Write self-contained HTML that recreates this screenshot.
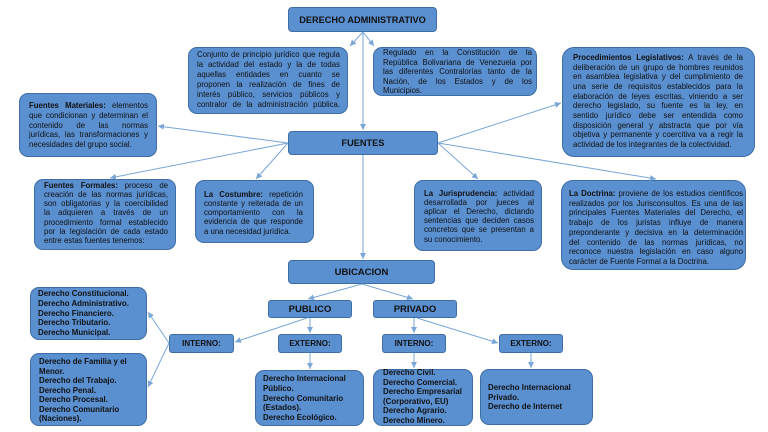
<!DOCTYPE html>
<html><head><meta charset="utf-8">
<style>
html,body{margin:0;padding:0;background:#fff;}
body{width:768px;height:432px;position:relative;overflow:hidden;font-family:"Liberation Sans",Arial,sans-serif;color:#111;}
.b{position:absolute;box-sizing:border-box;background:#5a8fd0;border:1px solid #3e6ea5;border-radius:9px;}
.t{position:absolute;box-sizing:border-box;background:#5a8fd0;border:1px solid #3e6ea5;border-radius:4px;display:flex;align-items:center;justify-content:center;font-weight:bold;color:#111;white-space:nowrap;}
.tx{position:absolute;font-size:7.8px;}
.tx div{text-align:justify;text-align-last:justify;overflow:visible;}
.tx div.l{text-align:left;text-align-last:left;}
.ls{position:absolute;font-size:7.9px;font-weight:bold;}
.ls div{white-space:nowrap;}
svg{position:absolute;left:0;top:0;}
</style></head><body>

<!-- boxes -->
<div class="t" style="left:288px;top:7px;width:149px;height:25px;font-size:9.2px;">DERECHO ADMINISTRATIVO</div>
<div class="b" style="left:188px;top:47px;width:160px;height:67px;"></div>
<div class="b" style="left:373px;top:47px;width:164px;height:49px;"></div>
<div class="b" style="left:19px;top:93px;width:138px;height:64px;"></div>
<div class="b" style="left:562px;top:47px;width:193px;height:110px;border-radius:12px;"></div>
<div class="t" style="left:288px;top:131px;width:150px;height:24px;font-size:9.2px;">FUENTES</div>
<div class="b" style="left:34px;top:179px;width:142px;height:71px;"></div>
<div class="b" style="left:195px;top:180px;width:119px;height:63px;"></div>
<div class="b" style="left:414px;top:180px;width:128px;height:71px;"></div>
<div class="b" style="left:561px;top:180px;width:185px;height:90px;border-radius:12px;"></div>
<div class="t" style="left:288px;top:260px;width:147px;height:24px;font-size:9.5px;">UBICACION</div>
<div class="t" style="left:268px;top:300px;width:84px;height:18px;font-size:9.5px;border-radius:3px;">PUBLICO</div>
<div class="t" style="left:373px;top:300px;width:84px;height:18px;font-size:9.5px;border-radius:3px;">PRIVADO</div>
<div class="t" style="left:169px;top:334px;width:65px;height:19px;font-size:8px;border-radius:3px;">INTERNO:</div>
<div class="t" style="left:278px;top:334px;width:64px;height:19px;font-size:8px;border-radius:3px;">EXTERNO:</div>
<div class="t" style="left:382px;top:334px;width:64px;height:19px;font-size:8px;border-radius:3px;">INTERNO:</div>
<div class="t" style="left:499px;top:334px;width:64px;height:19px;font-size:8px;border-radius:3px;">EXTERNO:</div>
<div class="b" style="left:30px;top:287px;width:117px;height:53px;"></div>
<div class="b" style="left:30px;top:353px;width:117px;height:73px;"></div>
<div class="b" style="left:255px;top:370px;width:109px;height:56px;"></div>
<div class="b" style="left:373px;top:369px;width:100px;height:57px;"></div>
<div class="b" style="left:480px;top:369px;width:113px;height:56px;"></div>

<!-- body texts -->
<div class="tx" style="left:197px;top:50px;width:143px;line-height:10px;">
<div>Conjunto de principio jurídico que regula</div>
<div>la actividad del estado y la de todas</div>
<div>aquellas entidades en cuanto se</div>
<div>proponen la realización de fines de</div>
<div>interés público, servicios públicos y</div>
<div>contralor de la administración pública.</div>
</div>

<div class="tx" style="left:383px;top:48px;width:149px;line-height:9.6px;">
<div>Regulado en la Constitución de la</div>
<div>República Bolivariana de Venezuela por</div>
<div>las diferentes Contralorías tanto de la</div>
<div>Nación, de los Estados y de los</div>
<div class="l">Municipios.</div>
</div>

<div class="tx" style="left:29px;top:101px;width:119px;line-height:9.75px;">
<div><b>Fuentes Materiales:</b> elementos</div>
<div>que condicionan y determinan el</div>
<div>contenido de las normas</div>
<div>jurídicas, las transformaciones y</div>
<div class="l">necesidades del grupo social.</div>
</div>

<div class="tx" style="left:573px;top:53px;width:170px;line-height:9.67px;">
<div><b>Procedimientos Legislativos:</b> A través de la</div>
<div>deliberación de un grupo de hombres reunidos</div>
<div>en asamblea legislativa y del cumplimiento de</div>
<div>una serie de requisitos establecidos para la</div>
<div>elaboración de leyes escritas, viniendo a ser</div>
<div>derecho legislado, su fuente es la ley, en</div>
<div>sentido jurídico debe ser entendida como</div>
<div>disposición general y abstracta que por vía</div>
<div>objetiva y permanente y coercitiva va a regir la</div>
<div class="l">actividad de los integrantes de la colectividad.</div>
</div>

<div class="tx" style="left:44px;top:180.5px;width:124px;line-height:9.33px;">
<div><b>Fuentes Formales:</b> proceso de</div>
<div>creación de las normas jurídicas,</div>
<div>son obligatorias y la coercibilidad</div>
<div>la adquieren a través de un</div>
<div>procedimiento formal establecido</div>
<div>por la legislación de cada estado</div>
<div class="l">entre estas fuentes tenemos:</div>
</div>

<div class="tx" style="left:204px;top:189.5px;width:99px;line-height:9.25px;">
<div><b>La Costumbre:</b> repetición</div>
<div>constante y reiterada de un</div>
<div>comportamiento con la</div>
<div>evidencia de que responde</div>
<div class="l">a una necesidad jurídica.</div>
</div>

<div class="tx" style="left:424px;top:188.5px;width:110px;line-height:9.2px;">
<div><b>La Jurisprudencia:</b> actividad</div>
<div>desarrollada por jueces al</div>
<div>aplicar el Derecho, dictando</div>
<div>sentencias que deciden casos</div>
<div>concretos que se presentan a</div>
<div class="l">su conocimiento.</div>
</div>

<div class="tx" style="left:569px;top:189px;width:174px;line-height:9.7px;">
<div><b>La Doctrina:</b> proviene de los estudios científicos</div>
<div>realizados por los Jurisconsultos. Es una de las</div>
<div>principales Fuentes Materiales del Derecho, el</div>
<div>trabajo de los juristas influye de manera</div>
<div>preponderante y decisiva en la determinación</div>
<div>del contenido de las normas jurídicas, no</div>
<div>reconoce nuestra legislación en caso alguno</div>
<div class="l">carácter de Fuente Formal a la Doctrina.</div>
</div>

<!-- lists -->
<div class="ls" style="left:38px;top:289px;line-height:9.75px;">
<div>Derecho Constitucional.</div>
<div>Derecho Administrativo.</div>
<div>Derecho Financiero.</div>
<div>Derecho Tributario.</div>
<div>Derecho Municipal.</div>
</div>
<div class="ls" style="left:39px;top:357px;line-height:9.5px;">
<div>Derecho de Familia y el</div>
<div>Menor.</div>
<div>Derecho del Trabajo.</div>
<div>Derecho Penal.</div>
<div>Derecho Procesal.</div>
<div>Derecho Comunitario</div>
<div>(Naciones).</div>
</div>
<div class="ls" style="left:263px;top:374px;line-height:9.75px;">
<div>Derecho Internacional</div>
<div>Público.</div>
<div>Derecho Comunitario</div>
<div>(Estados).</div>
<div>Derecho Ecológico.</div>
</div>
<div class="ls" style="left:383px;top:368px;line-height:9.6px;">
<div>Derecho Civil.</div>
<div>Derecho Comercial.</div>
<div>Derecho Empresarial</div>
<div>(Corporativo, EU)</div>
<div>Derecho Agrario.</div>
<div>Derecho Minero.</div>
</div>
<div class="ls" style="left:488px;top:383px;line-height:9.5px;">
<div>Derecho Internacional</div>
<div>Privado.</div>
<div>Derecho de Internet</div>
</div>

<!-- connectors -->
<svg width="768" height="432" viewBox="0 0 768 432">
<defs>
<marker id="a" viewBox="0 0 10 10" refX="10" refY="5" markerWidth="6" markerHeight="6" orient="auto" markerUnits="userSpaceOnUse">
<path d="M0,0 L10,5 L0,10 z" fill="#7aa6d8"/>
</marker>
</defs>
<g stroke="#7aa6d8" stroke-width="1" fill="none" marker-end="url(#a)">
<line x1="363" y1="32" x2="350" y2="46"/>
<line x1="363" y1="32" x2="374" y2="46"/>
<line x1="363" y1="32" x2="363" y2="130"/>
<line x1="288" y1="143" x2="158" y2="126"/>
<line x1="288" y1="143" x2="110" y2="178"/>
<line x1="288" y1="143" x2="256" y2="179"/>
<line x1="438" y1="143" x2="561" y2="103"/>
<line x1="438" y1="143" x2="478" y2="179"/>
<line x1="438" y1="143" x2="656" y2="179"/>
<line x1="363" y1="155" x2="363" y2="259"/>
<line x1="362" y1="284" x2="308" y2="299"/>
<line x1="362" y1="284" x2="413" y2="299"/>
<line x1="310" y1="318" x2="310" y2="333"/>
<line x1="307" y1="318" x2="235" y2="342"/>
<line x1="169" y1="343" x2="148" y2="312"/>
<line x1="169" y1="343" x2="148" y2="387"/>
<line x1="310" y1="353" x2="310" y2="369"/>
<line x1="414" y1="318" x2="414" y2="333"/>
<line x1="417" y1="318" x2="498" y2="343"/>
<line x1="414" y1="353" x2="414" y2="368"/>
<line x1="531" y1="353" x2="531" y2="368"/>
</g>
</svg>
</body></html>
